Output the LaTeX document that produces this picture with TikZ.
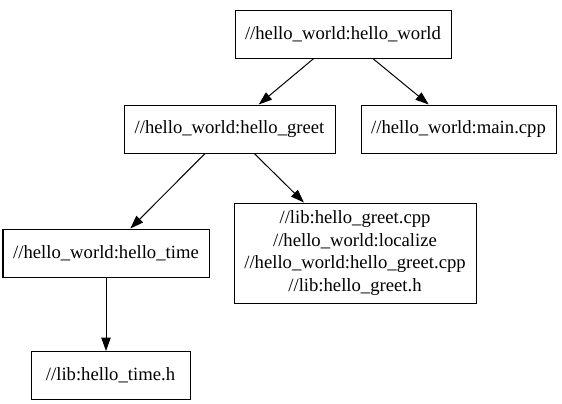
\documentclass[tikz,border=0pt]{standalone}
\usepackage{fontspec}
\setmainfont{Liberation Serif}
\usetikzlibrary{arrows.meta}

\begin{document}
\begin{tikzpicture}[x=0.75pt, y=-0.75pt, >={Triangle[length=10pt,width=7pt]}, line width=0.75pt,
    cible/.style={draw, inner sep=0pt, minimum height=36pt, align=center, font=\fontsize{14}{16.8}\selectfont}]
                \useasboundingbox (0,0) rectangle (562,404);

                % cible racine
                \node[cible, minimum width=162pt] (hw) at (343,34) {//hello\_world:hello\_world};

                % deuxieme niveau
                \node[cible, minimum width=158.25pt] (greet) at (229.5,129) {//hello\_world:hello\_greet};
                \node[cible, minimum width=146.25pt] (main) at (458.5,129) {//hello\_world:main.cpp};

                % troisieme niveau
                \node[cible, minimum width=154.5pt] (time) at (106,253) {//hello\_world:hello\_time};
                \node[cible, minimum width=181.5pt, minimum height=75pt] (files) at (355,253)
                    {//lib:hello\_greet.cpp\\//hello\_world:localize\\//hello\_world:hello\_greet.cpp\\//lib:hello\_greet.h};

                % en-tete
                \node[cible, minimum width=119.25pt] (timeh) at (110.5,375.5) {//lib:hello\_time.h};

                % dependances
                \draw[->] (hw) -- (greet);
                \draw[->] (hw) -- (main);
                \draw[->] (greet) -- (time);
                \draw[->] (greet) -- (files);
                \draw[->] (time) -- (time |- timeh.north);
\end{tikzpicture}
\end{document}
